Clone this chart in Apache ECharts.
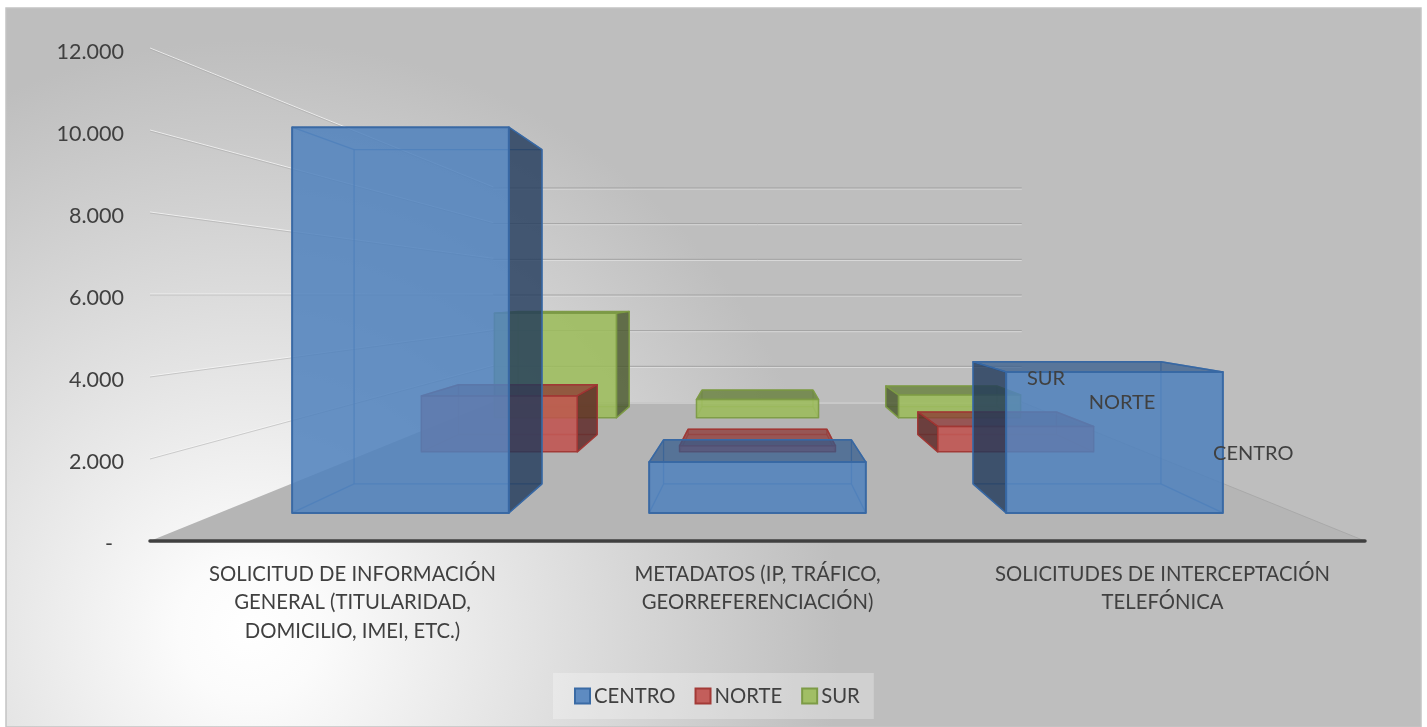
<!DOCTYPE html>
<html><head><meta charset="utf-8">
<style>html,body{margin:0;padding:0;background:#fff}#c{width:1427px;height:727px}</style>
<script src="https://cdn.jsdelivr.net/npm/echarts@6/dist/echarts.min.js"></script>
</head><body><div id="c"></div>
<script>
const categories = ['SOLICITUD DE INFORMACIÓN\nGENERAL (TITULARIDAD,\nDOMICILIO, IMEI, ETC.)','METADATOS (IP, TRÁFICO,\nGEORREFERENCIACIÓN)','SOLICITUDES DE INTERCEPTACIÓN\nTELEFÓNICA'];
const centro = [10620, 1400, 3880];
const norte = [2140, 230, 970];
const sur = [5110, 890, 1110];
const ticks = [0, 2000, 4000, 6000, 8000, 10000, 12000];
const depthNames = ['CENTRO', 'NORTE', 'SUR'];

const BACK = 0.435;
const font = 'Lato, Carlito, sans-serif';
const styles = {
  CENTRO: {front:'rgba(79,129,189,0.86)', top:'rgba(50,90,140,0.72)', side:'rgba(31,56,90,0.8)', edge:'rgba(56,104,163,0.98)', edgeW:2, inner:'rgba(60,112,175,0.75)', s:[0.886,0.768], spread:0.995, labelS:0.816, labelV:1270},
  NORTE:  {front:'rgba(192,80,77,0.86)', top:'rgba(140,50,48,0.72)', side:'rgba(90,34,32,0.8)', edge:'rgba(160,55,52,0.95)', edgeW:1.5, inner:'rgba(170,66,62,0.55)', s:[0.6375,0.567], spread:1, labelS:0.6, labelV:1610},
  SUR:    {front:'rgba(155,187,89,0.86)', top:'rgba(100,125,55,0.78)', side:'rgba(70,85,40,0.8)', edge:'rgba(125,155,70,0.95)', edgeW:1.5, inner:'rgba(130,160,72,0.55)', s:[0.499,0.454], spread:1, labelS:0.475, labelV:1730}
};

function vanish(api, params){
  return [params.coordSys.x + params.coordSys.width / 2, api.coord([0, 6000])[1]];
}
function proj(p, s, v){ return [v[0] + (p[0]-v[0])*s, v[1] + (p[1]-v[1])*s]; }

function barRenderer(name){
  const st = styles[name];
  return function(params, api){
    const v = vanish(api, params);
    const top = api.coord([api.value(0), api.value(1)]);
    const bot = api.coord([api.value(0), 0]);
    const hw = api.size([1,0])[0] * 0.302;
    const cx = v[0] + (top[0]-v[0]) * st.spread;
    const f = st.s[0], b = st.s[1];
    const FTL = proj([cx-hw, top[1]], f, v), FTR = proj([cx+hw, top[1]], f, v);
    const FBL = proj([cx-hw, bot[1]], f, v), FBR = proj([cx+hw, bot[1]], f, v);
    const BTL = proj([cx-hw, top[1]], b, v), BTR = proj([cx+hw, top[1]], b, v);
    const BBL = proj([cx-hw, bot[1]], b, v), BBR = proj([cx+hw, bot[1]], b, v);
    const kids = [];
    const poly = (pts, fill, stroke, w) => kids.push({type:'polygon', shape:{points:pts}, style:{fill:fill, stroke:stroke, lineWidth:w, lineJoin:'round'}});
    const line = (a, c) => kids.push({type:'line', shape:{x1:a[0],y1:a[1],x2:c[0],y2:c[1]}, style:{stroke:st.inner, lineWidth:1.3}});
    // edges of the far end of the box, seen through the front
    [[BTL,BTR],[BTR,BBR],[BBR,BBL],[BBL,BTL],[FTL,BTL],[FTR,BTR],[FBL,BBL],[FBR,BBR]].forEach(e => line(e[0], e[1]));
    // outward faces
    if (BTL[1] < FTL[1]) poly([FTL,FTR,BTR,BTL], st.top, st.edge, 1.5);
    if (BTL[0] < FTL[0]) poly([FTL,BTL,BBL,FBL], st.side, st.edge, 1.5);
    if (BTR[0] > FTR[0]) poly([FTR,BTR,BBR,FBR], st.side, st.edge, 1.5);
    poly([FTL,FTR,FBR,FBL], st.front, st.edge, st.edgeW);
    return {type:'group', children:kids};
  };
}

function wallRenderer(params, api){
  const v = vanish(api, params);
  const val = api.value(0);
  const L = params.coordSys.x, R = L + params.coordSys.width;
  const y = api.coord([0, val])[1];
  const a = [L, y], c = [R, y];
  const ab = proj(a, BACK, v), cb = proj(c, BACK, v);
  const kids = [];
  if (val === 0) {
    kids.push({type:'polygon', shape:{points:[a, c, cb, ab]}, style:{fill:'#b5b5b5'}});
    kids.push({type:'line', shape:{x1:cb[0],y1:cb[1],x2:c[0],y2:c[1]}, style:{stroke:'#a4a4a4', lineWidth:0.8}});
  } else {
    kids.push({type:'line', shape:{x1:a[0],y1:a[1]-1,x2:ab[0],y2:ab[1]-1}, style:{stroke:'rgba(245,245,245,0.8)', lineWidth:1}});
    kids.push({type:'line', shape:{x1:a[0],y1:a[1],x2:ab[0],y2:ab[1]}, style:{stroke:'rgba(160,160,160,0.45)', lineWidth:1}});
  }
  kids.push({type:'line', shape:{x1:ab[0],y1:ab[1]+1,x2:cb[0],y2:cb[1]+1}, style:{stroke:'rgba(225,225,225,0.9)', lineWidth:1}});
  if (val !== 0) kids.push({type:'line', shape:{x1:ab[0],y1:ab[1],x2:cb[0],y2:cb[1]}, style:{stroke:'rgba(155,155,155,0.85)', lineWidth:1}});
  return {type:'group', children:kids};
}

function depthLabelRenderer(params, api){
  const v = vanish(api, params);
  const st = styles[depthNames[params.dataIndex]];
  const R = params.coordSys.x + params.coordSys.width;
  const p = proj([R, api.coord([0, st.labelV])[1]], st.labelS, v);
  return {type:'text', x:p[0], y:p[1], style:{text:depthNames[params.dataIndex], font:'20px '+font, fill:'#404040', align:'center', verticalAlign:'middle'}};
}

const barSeries = (name, values, color, border, z) => ({
  name:name, type:'custom', coordinateSystem:'cartesian2d', clip:false, z:z,
  renderItem:barRenderer(name), encode:{x:0,y:1},
  itemStyle:{color:color, borderColor:border, borderWidth:2},
  data:values.map((val,i)=>[i,val]), silent:true
});

const chart = echarts.init(document.getElementById('c'), null, {renderer:'canvas'});
chart.setOption({
  animation:false,
  backgroundColor:'#ffffff',
  graphic:{elements:[{
    type:'rect', z:-100, silent:true,
    shape:{x:6,y:8,width:1415,height:719},
    style:{stroke:'#c4c4c4', lineWidth:1.5,
      fill:new echarts.graphic.RadialGradient(250,630,590,[
        {offset:0,color:'#ffffff'},{offset:0.12,color:'#fbfbfb'},{offset:1,color:'#bebebe'}],true)}
  }]},
  grid:{left:150, top:49, width:1215, height:492, containLabel:false},
  xAxis:{type:'category', data:categories, z:3,
    axisLine:{lineStyle:{color:'#404040', width:3.5}}, axisTick:{show:false},
    axisLabel:{fontFamily:font, fontSize:20.3, color:'#404040', lineHeight:28.5, margin:19, interval:0}},
  yAxis:{type:'value', min:0, max:12000, interval:2000,
    axisLine:{show:false}, axisTick:{show:false}, splitLine:{show:false},
    axisLabel:{margin:26,
      rich:{t:{fontFamily:font, fontSize:21.5, color:'#404040', padding:[6,0,0,0]}},
      formatter:v => '{t|' + (v === 0 ? '-  ' : String(v/1000) + '.000') + '}'}},
  legend:{left:553, top:673, data:depthNames, icon:'rect', itemWidth:15, itemHeight:15, itemGap:19,
    backgroundColor:'rgba(255,255,255,0.28)', padding:[13,14,13,21], borderRadius:0,
    textStyle:{fontFamily:font, fontSize:20.3, color:'#404040', padding:[0,0,0,-1]}},
  series:[
    {type:'custom', name:'_walls', coordinateSystem:'cartesian2d', clip:false, z:1, silent:true,
      renderItem:wallRenderer, encode:{y:0}, data:ticks.map(t=>[t])},
    barSeries('CENTRO', centro, 'rgba(79,129,189,0.9)', '#3a6ba5', 6),
    barSeries('NORTE', norte, 'rgba(192,80,77,0.9)', '#a33a37', 5),
    barSeries('SUR', sur, 'rgba(155,187,89,0.9)', '#7d9b46', 4),
    {type:'custom', name:'_depth', coordinateSystem:'cartesian2d', clip:false, z:8, silent:true,
      renderItem:depthLabelRenderer, encode:{y:0}, data:depthNames.map(()=>[0])}
  ]
});
</script></body></html>
